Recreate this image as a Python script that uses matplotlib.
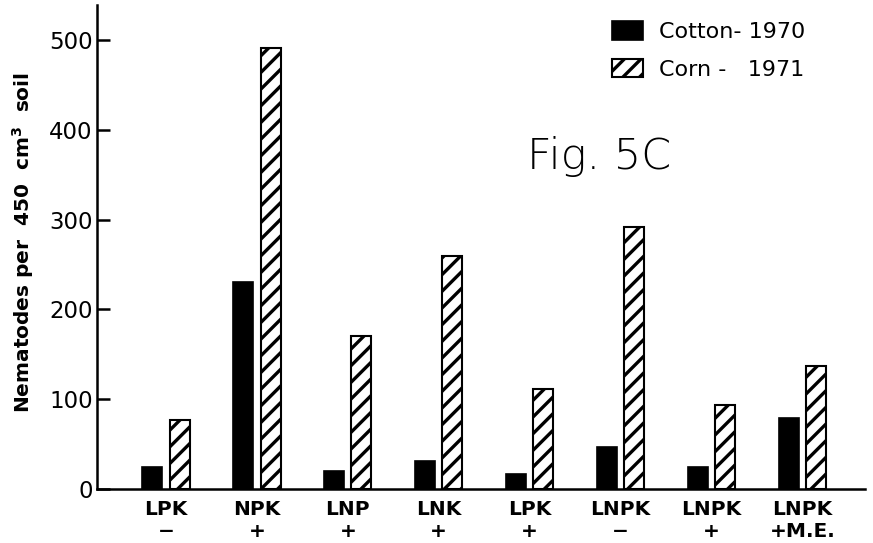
import matplotlib
matplotlib.use("Agg")
import matplotlib.pyplot as plt
import numpy as np

# Nematode counts per 450 cm^3 soil under each fertilizer treatment
treatments = ["LPK", "NPK", "LNP", "LNK", "LPK", "LNPK", "LNPK", "LNPK"]
lime = ["\u2212", "+", "+", "+", "+", "\u2212", "+", "+M.E."]
cotton_1970 = [25, 230, 20, 31, 17, 47, 25, 79]
corn_1971 = [77, 491, 170, 259, 111, 292, 94, 137]

plt.rcParams["hatch.linewidth"] = 2.4
plt.rcParams["font.family"] = ["DejaVu Sans"]

fig = plt.figure(figsize=(8.73, 5.43), dpi=100)
ax = fig.add_axes([0.111, 0.0994, 0.880, 0.8916])

x = np.arange(len(treatments))
w = 0.22
off = 0.15
b1 = ax.bar(x - off, cotton_1970, width=w, color="black", edgecolor="black",
            linewidth=1.2, label="Cotton- 1970")
b2 = ax.bar(x + off, corn_1971, width=w, color="white", edgecolor="black",
            linewidth=1.5, hatch="//", label="Corn -   1971")

ax.set_xlim(-0.76, 7.69)
ax.set_ylim(0, 539)

for side in ("top", "right"):
    ax.spines[side].set_visible(False)
for side in ("left", "bottom"):
    ax.spines[side].set_linewidth(1.8)

ax.set_yticks([0, 100, 200, 300, 400, 500])
ax.tick_params(axis="y", direction="in", length=9.5, width=1.8,
               labelsize=16.5, pad=3)
ax.set_xticks(x)
ax.set_xticklabels([f"{t}\n{s}" for t, s in zip(treatments, lime)],
                   fontsize=14.5, fontweight="bold", linespacing=1.2)
ax.tick_params(axis="x", length=0, pad=8)

ax.set_ylabel("Nematodes per  450  cm$^\\mathbf{3}$  soil", fontsize=14.5,
              fontweight="bold")
ax.yaxis.set_label_coords(-0.079, 0.51)

ax.legend(handles=[b1, b2], loc="upper left", bbox_to_anchor=(0.6706, 0.966),
          frameon=False, fontsize=16, handlelength=1.4, handleheight=0.9,
          handletextpad=0.7, labelspacing=0.75, borderaxespad=0, borderpad=0)

ax.text(0.56, 0.66, "Fig. 5C", transform=ax.transAxes, fontsize=31,
        fontweight="light", va="baseline")

fig.savefig("out.png", dpi=100)
